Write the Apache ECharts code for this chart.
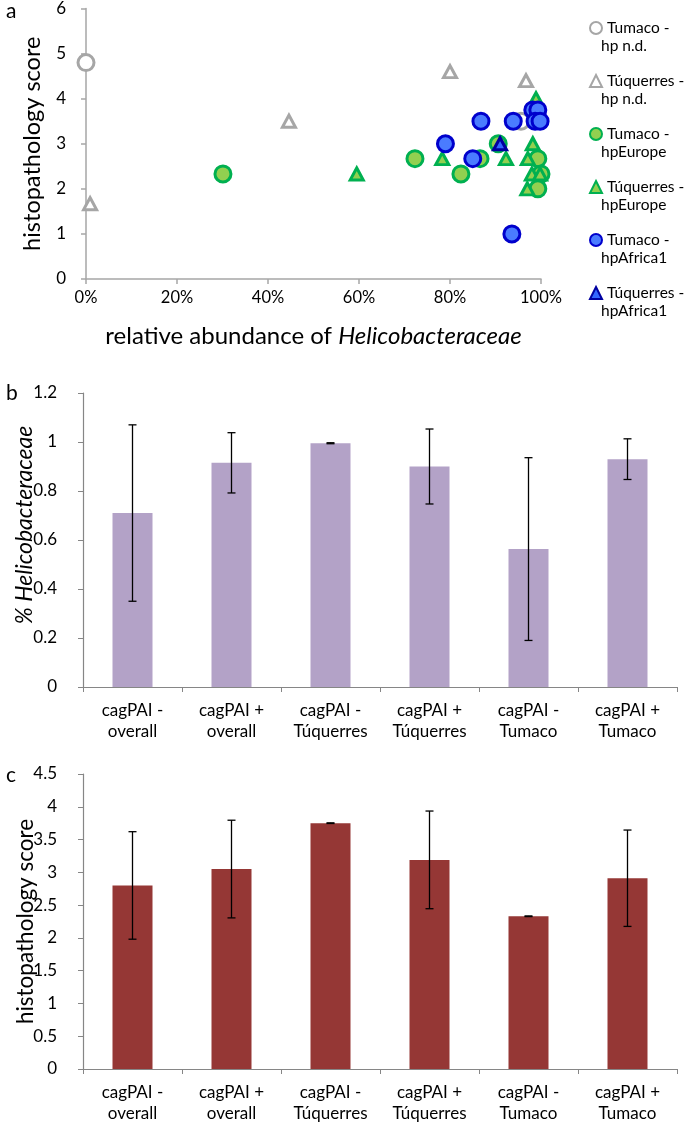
<!DOCTYPE html>
<html>
<head>
<meta charset="utf-8">
<script src="https://cdn.jsdelivr.net/npm/echarts@6/dist/echarts.min.js"></script>
<style>
html,body{margin:0;padding:0;background:#fff;}
#c{width:685px;height:1124px;}
</style>
</head>
<body>
<div id="c"></div>
<script>
// ---- Panel a: scatter data [relative abundance %, histopathology score] ----
const tumacoHpND = [[0, 4.8], [95.6, 3.5]];
const tuquerresHpND = [[0.9, 1.67], [44.6, 3.5], [80, 4.6], [96.7, 4.4]];
const tumacoHpEurope = [[30.1, 2.33], [72.3, 2.67], [82.4, 2.33], [86.6, 2.67], [90.6, 3.0], [99.3, 2.67], [100, 2.33], [99.3, 2.0]];
const tuquerresHpEurope = [[59.5, 2.33], [78.3, 2.67], [92.3, 2.67], [98.9, 4.0], [98.2, 3.0], [97.1, 2.67], [98.0, 2.33], [99.8, 2.33], [97.0, 2.0]];
const tumacoHpAfrica1 = [[79, 3.0], [86.8, 3.5], [93.9, 3.5], [85, 2.67], [93.6, 1.0], [98.2, 3.75], [99.3, 3.75], [98.7, 3.5], [99.8, 3.5]];
const tuquerresHpAfrica1 = [[91, 3.0]];

// ---- Panels b and c: bar data ----
const categories = ['cagPAI -\noverall', 'cagPAI +\noverall', 'cagPAI -\nTúquerres', 'cagPAI +\nTúquerres', 'cagPAI -\nTumaco', 'cagPAI +\nTumaco'];
const helicoMean = [0.71, 0.915, 0.995, 0.90, 0.563, 0.93];
const helicoErr = [0.36, 0.123, 0.002, 0.153, 0.373, 0.083];
const histoMean = [2.80, 3.05, 3.75, 3.19, 2.33, 2.91];
const histoErr = [0.82, 0.745, 0.005, 0.745, 0.005, 0.735];

const legendNames = ['Tumaco -\nhp n.d.', 'Túquerres -\nhp n.d.', 'Tumaco -\nhpEurope', 'Túquerres -\nhpEurope', 'Tumaco -\nhpAfrica1', 'Túquerres -\nhpAfrica1'];

const FONT = 'Lato';
const axisGray = '#a6a6a6';
const barAxisGray = '#868686';

function scatterSeries(name, data, symbol, fill, stroke, size) {
  return {
    type: 'scatter', name: name, data: data, symbol: symbol,
    symbolSize: size, xAxisIndex: 0, yAxisIndex: 0,
    itemStyle: { color: fill, borderColor: stroke, borderWidth: 3, opacity: 1 },
    emphasis: { disabled: true }
  };
}

function errorSeries(means, errs, axisIdx) {
  return {
    type: 'custom', xAxisIndex: axisIdx, yAxisIndex: axisIdx, z: 10,
    data: means.map((m, i) => [i, m, errs[i]]),
    encode: { x: 0, y: 1 },
    renderItem: function (params, api) {
      const i = api.value(0), m = api.value(1), e = api.value(2);
      const top = api.coord([i, m + e]);
      const bot = api.coord([i, m - e]);
      const cap = 4;
      const st = { stroke: '#000', lineWidth: 1.3 };
      return {
        type: 'group', children: [
          { type: 'line', shape: { x1: top[0], y1: top[1], x2: bot[0], y2: bot[1] }, style: st },
          { type: 'line', shape: { x1: top[0] - cap, y1: top[1], x2: top[0] + cap, y2: top[1] }, style: st },
          { type: 'line', shape: { x1: bot[0] - cap, y1: bot[1], x2: bot[0] + cap, y2: bot[1] }, style: st }
        ]
      };
    }
  };
}

const legendTop = 14, legendGap = 35, legendLine = 18;
const secondLines = legendNames.map((n, i) => ({
  type: 'text', left: 601, top: legendTop + i * (legendLine + legendGap) + 23,
  style: { text: n.split('\n')[1], fontSize: 15.5, fontFamily: FONT, fill: '#000', lineHeight: 18 }
}));

const catLabel = { interval: 0, fontSize: 17, color: '#000', lineHeight: 21, margin: 13 };

const chart = echarts.init(document.getElementById('c'), null, { renderer: 'canvas' });
chart.setOption({
  animation: false,
  backgroundColor: '#fff',
  textStyle: { fontFamily: FONT },
  grid: [
    { left: 86, top: 7, width: 455, height: 272 },
    { left: 83, top: 393, width: 594, height: 294 },
    { left: 83, top: 774, width: 594, height: 295 }
  ],
  legend: {
    orient: 'vertical', left: 584, top: legendTop, itemGap: legendGap,
    itemWidth: 12, itemHeight: 12, selectedMode: false,
    data: legendNames,
    formatter: n => n.split('\n')[0],
    textStyle: { fontSize: 15.5, fontFamily: FONT, color: '#000', lineHeight: legendLine }
  },
  xAxis: [
    {
      gridIndex: 0, type: 'value', min: 0, max: 100, interval: 20,
      axisLine: { show: true, lineStyle: { color: axisGray, width: 1.5 } },
      axisTick: { show: true, length: 5, lineStyle: { color: axisGray, width: 1.5 } },
      splitLine: { show: false },
      axisLabel: { formatter: '{value}%', fontSize: 16.5, color: '#000', margin: 10 },
      name: '{n|relative abundance of }{i|Helicobacteraceae}',
      nameLocation: 'middle', nameGap: 45, nameMoveOverlap: false,
      nameTextStyle: { rich: { n: { fontSize: 24, fontFamily: FONT, color: '#000' }, i: { fontSize: 24, fontFamily: FONT, fontStyle: 'italic', color: '#000' } } }
    },
    {
      gridIndex: 1, type: 'category', data: categories,
      axisLine: { lineStyle: { color: barAxisGray, width: 1.2 } },
      axisTick: { show: true, length: 5, lineStyle: { color: barAxisGray } },
      axisLabel: catLabel
    },
    {
      gridIndex: 2, type: 'category', data: categories,
      axisLine: { lineStyle: { color: barAxisGray, width: 1.2 } },
      axisTick: { show: true, length: 5, lineStyle: { color: barAxisGray } },
      axisLabel: catLabel
    }
  ],
  yAxis: [
    {
      gridIndex: 0, type: 'value', min: 0, max: 6, interval: 1,
      axisLine: { show: true, lineStyle: { color: axisGray, width: 1.5 } },
      axisTick: { show: true, length: 5, lineStyle: { color: axisGray, width: 1.5 } },
      splitLine: { show: false },
      axisLabel: { fontSize: 17, color: '#000', margin: 20 },
      name: 'histopathology score', nameLocation: 'middle', nameGap: 42, nameMoveOverlap: false,
      nameTextStyle: { fontSize: 23.5, fontFamily: FONT, color: '#000' }
    },
    {
      gridIndex: 1, type: 'value', min: 0, max: 1.2, interval: 0.2,
      axisLine: { show: true, lineStyle: { color: barAxisGray, width: 1.2 } },
      axisTick: { show: true, length: 5, lineStyle: { color: barAxisGray } },
      splitLine: { show: false },
      axisLabel: { fontSize: 17, color: '#000', margin: 26, formatter: v => String(+v.toFixed(1)) },
      name: '% Helicobacteraceae', nameLocation: 'middle', nameGap: 47, nameMoveOverlap: false,
      nameTextStyle: { fontSize: 23, fontFamily: FONT, fontStyle: 'italic', color: '#000', padding: [0, 0, 0, 30] }
    },
    {
      gridIndex: 2, type: 'value', min: 0, max: 4.5, interval: 0.5,
      axisLine: { show: true, lineStyle: { color: barAxisGray, width: 1.2 } },
      axisTick: { show: true, length: 5, lineStyle: { color: barAxisGray } },
      splitLine: { show: false },
      axisLabel: { fontSize: 17, color: '#000', margin: 26 },
      name: 'histopathology score', nameLocation: 'middle', nameGap: 46, nameMoveOverlap: false,
      nameTextStyle: { fontSize: 22.5, fontFamily: FONT, color: '#000' }
    }
  ],
  graphic: [
    { type: 'text', left: 6, top: 1, style: { text: 'a', fontSize: 21, fontFamily: FONT, fill: '#000' } },
    { type: 'text', left: 6, top: 383, style: { text: 'b', fontSize: 21, fontFamily: FONT, fill: '#000' } },
    { type: 'text', left: 6, top: 765, style: { text: 'c', fontSize: 21, fontFamily: FONT, fill: '#000' } }
  ].concat(secondLines),
  series: [
    scatterSeries(legendNames[0], tumacoHpND, 'circle', '#ffffff', '#a6a6a6', 16),
    scatterSeries(legendNames[1], tuquerresHpND, 'triangle', '#ffffff', '#a6a6a6', [13, 12]),
    scatterSeries(legendNames[2], tumacoHpEurope, 'circle', '#92d050', '#00b050', 16),
    scatterSeries(legendNames[3], tuquerresHpEurope, 'triangle', '#92d050', '#00b050', [13, 12]),
    scatterSeries(legendNames[4], tumacoHpAfrica1, 'circle', '#4a7bff', '#0000cc', 16),
    scatterSeries(legendNames[5], tuquerresHpAfrica1, 'triangle', '#3366ff', '#0000a0', [13, 12]),
    {
      type: 'bar', xAxisIndex: 1, yAxisIndex: 1, data: helicoMean, barWidth: 40,
      itemStyle: { color: '#b3a2c7' }, emphasis: { disabled: true }
    },
    errorSeries(helicoMean, helicoErr, 1),
    {
      type: 'bar', xAxisIndex: 2, yAxisIndex: 2, data: histoMean, barWidth: 40,
      itemStyle: { color: '#953735' }, emphasis: { disabled: true }
    },
    errorSeries(histoMean, histoErr, 2)
  ]
});
</script>
</body>
</html>
